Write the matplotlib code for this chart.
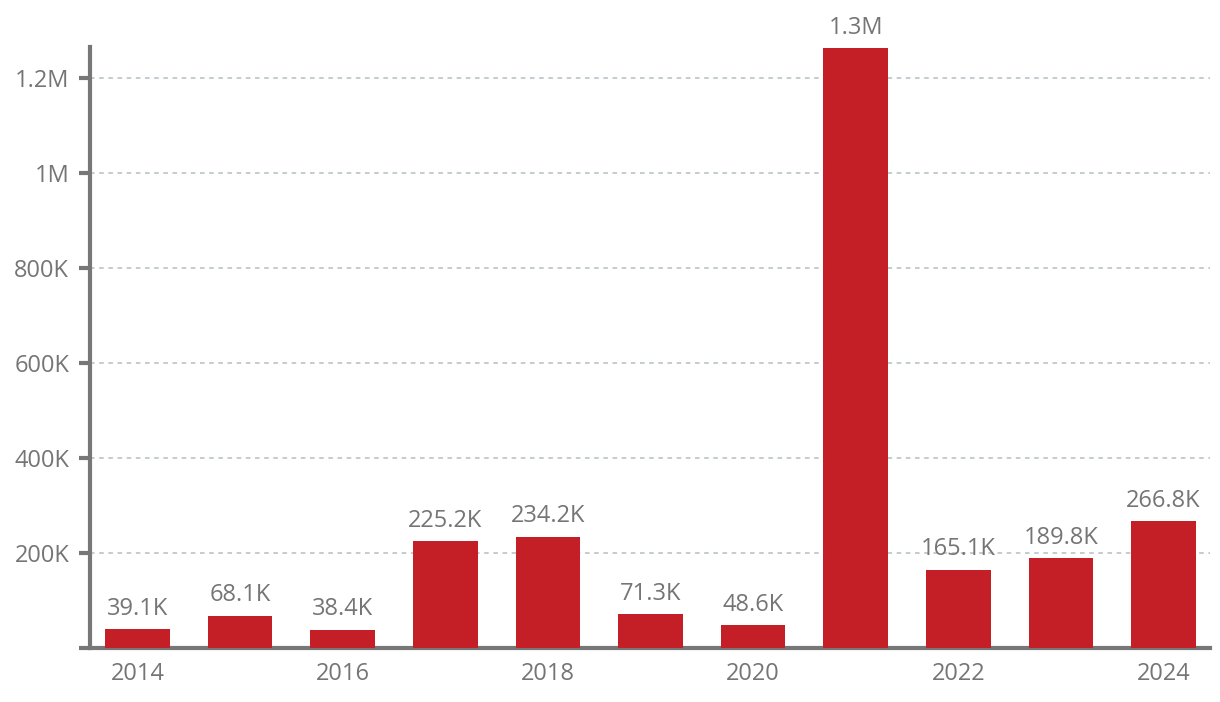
import numpy as np
import matplotlib.pyplot as plt

years = [2014, 2015, 2016, 2017, 2018, 2019, 2020, 2021, 2022, 2023, 2024]
values = [39100, 68100, 38400, 225200, 234200, 71300, 48600, 1263000, 165100, 189800, 266800]
value_labels = ["39.1K", "68.1K", "38.4K", "225.2K", "234.2K", "71.3K",
                "48.6K", "1.3M", "165.1K", "189.8K", "266.8K"]
y_ticks = [0, 200000, 400000, 600000, 800000, 1000000, 1200000]
y_tick_labels = ["", "200K", "400K", "600K", "800K", "1M", "1.2M"]

BAR_COLOR = "#c41f27"
AXIS_GREY = "#777777"
TEXT_GREY = "#757575"
GRID_COLOR = "#b5bfc4"

plt.rcParams["font.family"] = ["Open Sans", "DejaVu Sans"]

fig = plt.figure(figsize=(12.2, 7.02), dpi=100)
ax = fig.add_axes([0.0738, 0.0769, 0.918, 0.856])

x = np.arange(len(years))
ax.bar(x, values, width=0.63, color=BAR_COLOR, zorder=3)

# value labels above each bar
for xi, v, lab in zip(x, values, value_labels):
    ax.annotate(lab, (xi, v), xytext=(0, 6), textcoords="offset points",
                ha="center", va="bottom", fontsize=17, color=TEXT_GREY)

ax.set_xlim(-0.463, len(years) - 1 + 0.453)
ax.set_ylim(0, 1265000)

ax.set_yticks(y_ticks)
ax.set_yticklabels(y_tick_labels)
ax.set_xticks(x[::2])
ax.set_xticklabels([str(y) for y in years[::2]])

ax.yaxis.grid(True, linestyle=(0, (3, 3)), color=GRID_COLOR, lw=1.1, zorder=0)
ax.set_axisbelow(True)

for sp in ["top", "right"]:
    ax.spines[sp].set_visible(False)
for sp in ["left", "bottom"]:
    ax.spines[sp].set_color(AXIS_GREY)
    ax.spines[sp].set_linewidth(3)

ax.tick_params(axis="y", length=8, width=3, color=AXIS_GREY,
               labelsize=17, labelcolor=TEXT_GREY, pad=7)
ax.tick_params(axis="x", length=0, labelsize=17, labelcolor=TEXT_GREY, pad=10)

fig.savefig("out.png", dpi=100)
